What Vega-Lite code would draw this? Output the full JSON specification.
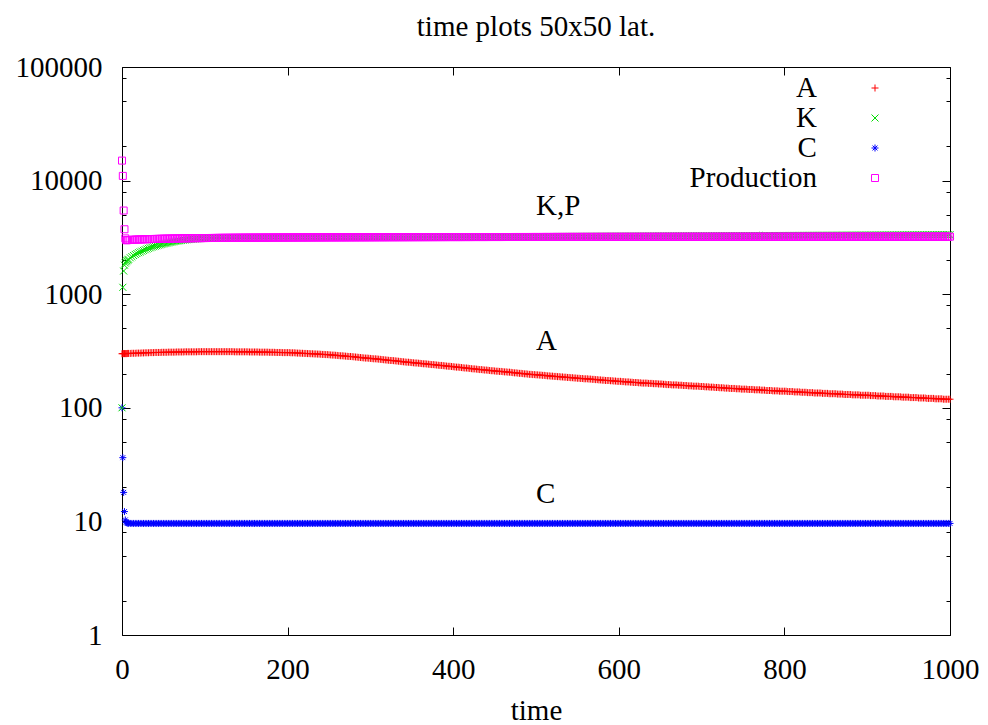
{
 "$schema": "https://vega.github.io/schema/vega-lite/v6.json",
 "width": 828,
 "height": 568,
 "autosize": "none",
 "padding": {"left": 122, "top": 67, "right": 38, "bottom": 90},
 "background": "white",
 "config": {
  "view": {"stroke": "black", "strokeWidth": 1},
  "font": "Liberation Serif",
  "legend": {"orient": "none", "legendX": 738.5, "legendY": 6.5, "padding": 0, "rowPadding": 0, "labelFont": "Liberation Serif", "labelFontSize": 29, "labelColor": "black", "labelAlign": "right", "labelOffset": -72.6, "labelLimit": 0, "symbolStrokeWidth": 1, "symbolSize": 49}
 },
 "title": {"text": "time plots 50x50 lat.", "font": "Liberation Serif", "fontSize": 29, "fontWeight": "normal", "color": "black", "anchor": "middle", "offset": 11},
 "layer": [
  {
   "data": {"values": [
{"t":0,"A":299,"K":100,"C":100,"P":15000},
{"t":1,"A":300,"K":1150,"C":36.4,"P":11000},
{"t":2,"A":300,"K":1600,"C":18,"P":5450},
{"t":3,"A":300,"K":1800,"C":12.2,"P":3730},
{"t":4,"A":300,"K":1880,"C":10.3,"P":3100},
{"t":5,"A":300,"K":1930,"C":9.8,"P":2990},
{"t":6,"A":300,"K":1970,"C":9.7,"P":2990},
{"t":7,"A":301,"K":2000,"C":9.65,"P":2995},
{"t":8,"A":301,"K":2030,"C":9.63,"P":3000},
{"t":10,"A":301,"K":2090,"C":9.6,"P":3006},
{"t":12,"A":302,"K":2140,"C":9.6,"P":3012},
{"t":14,"A":302,"K":2190,"C":9.6,"P":3017},
{"t":16,"A":302,"K":2240,"C":9.6,"P":3022},
{"t":18,"A":303,"K":2280,"C":9.6,"P":3026},
{"t":20,"A":303,"K":2320,"C":9.6,"P":3030},
{"t":22,"A":303,"K":2356,"C":9.6,"P":3034},
{"t":24,"A":304,"K":2392,"C":9.6,"P":3038},
{"t":26,"A":304,"K":2428,"C":9.6,"P":3042},
{"t":28,"A":305,"K":2464,"C":9.6,"P":3046},
{"t":30,"A":305,"K":2500,"C":9.6,"P":3050},
{"t":32,"A":305,"K":2532,"C":9.6,"P":3053},
{"t":34,"A":306,"K":2564,"C":9.6,"P":3056},
{"t":36,"A":306,"K":2594,"C":9.6,"P":3059},
{"t":38,"A":306,"K":2622,"C":9.6,"P":3062},
{"t":40,"A":307,"K":2650,"C":9.6,"P":3065},
{"t":42,"A":307,"K":2674,"C":9.6,"P":3068},
{"t":44,"A":307,"K":2698,"C":9.6,"P":3070},
{"t":46,"A":307,"K":2722,"C":9.6,"P":3073},
{"t":48,"A":308,"K":2746,"C":9.6,"P":3075},
{"t":50,"A":308,"K":2770,"C":9.6,"P":3078},
{"t":52,"A":308,"K":2790,"C":9.6,"P":3080},
{"t":54,"A":308,"K":2810,"C":9.6,"P":3082},
{"t":56,"A":309,"K":2830,"C":9.6,"P":3085},
{"t":58,"A":309,"K":2850,"C":9.6,"P":3087},
{"t":60,"A":309,"K":2870,"C":9.6,"P":3089},
{"t":62,"A":309,"K":2890,"C":9.6,"P":3091},
{"t":64,"A":309,"K":2910,"C":9.6,"P":3093},
{"t":66,"A":310,"K":2928,"C":9.6,"P":3095},
{"t":68,"A":310,"K":2944,"C":9.6,"P":3097},
{"t":70,"A":310,"K":2960,"C":9.6,"P":3099},
{"t":72,"A":310,"K":2974,"C":9.6,"P":3101},
{"t":74,"A":310,"K":2988,"C":9.6,"P":3102},
{"t":76,"A":311,"K":3002,"C":9.6,"P":3104},
{"t":78,"A":311,"K":3014,"C":9.6,"P":3105},
{"t":80,"A":311,"K":3025,"C":9.6,"P":3107},
{"t":82,"A":311,"K":3035,"C":9.6,"P":3109},
{"t":84,"A":311,"K":3045,"C":9.6,"P":3110},
{"t":86,"A":311,"K":3054,"C":9.6,"P":3112},
{"t":88,"A":311,"K":3062,"C":9.6,"P":3113},
{"t":90,"A":311,"K":3070,"C":9.6,"P":3115},
{"t":92,"A":312,"K":3078,"C":9.6,"P":3116},
{"t":94,"A":312,"K":3086,"C":9.6,"P":3117},
{"t":96,"A":312,"K":3093,"C":9.6,"P":3118},
{"t":98,"A":312,"K":3099,"C":9.6,"P":3120},
{"t":100,"A":312,"K":3105,"C":9.6,"P":3121},
{"t":102,"A":312,"K":3109,"C":9.6,"P":3122},
{"t":104,"A":312,"K":3112,"C":9.6,"P":3123},
{"t":106,"A":312,"K":3116,"C":9.6,"P":3125},
{"t":108,"A":312,"K":3119,"C":9.6,"P":3126},
{"t":110,"A":312,"K":3122,"C":9.6,"P":3127},
{"t":112,"A":312,"K":3123,"C":9.6,"P":3128},
{"t":114,"A":312,"K":3124,"C":9.6,"P":3129},
{"t":116,"A":312,"K":3125,"C":9.6,"P":3130},
{"t":118,"A":312,"K":3126,"C":9.6,"P":3131},
{"t":120,"A":312,"K":3127,"C":9.6,"P":3132},
{"t":122,"A":312,"K":3127,"C":9.6,"P":3133},
{"t":124,"A":312,"K":3128,"C":9.6,"P":3134},
{"t":126,"A":312,"K":3128,"C":9.6,"P":3134},
{"t":128,"A":312,"K":3129,"C":9.6,"P":3135},
{"t":130,"A":312,"K":3129,"C":9.6,"P":3136},
{"t":132,"A":312,"K":3129,"C":9.6,"P":3137},
{"t":134,"A":312,"K":3130,"C":9.6,"P":3138},
{"t":136,"A":311,"K":3130,"C":9.6,"P":3138},
{"t":138,"A":311,"K":3131,"C":9.6,"P":3139},
{"t":140,"A":311,"K":3131,"C":9.6,"P":3140},
{"t":142,"A":311,"K":3132,"C":9.6,"P":3141},
{"t":144,"A":311,"K":3132,"C":9.6,"P":3142},
{"t":146,"A":311,"K":3133,"C":9.6,"P":3142},
{"t":148,"A":311,"K":3133,"C":9.6,"P":3143},
{"t":150,"A":311,"K":3134,"C":9.6,"P":3144},
{"t":152,"A":311,"K":3134,"C":9.6,"P":3145},
{"t":154,"A":310,"K":3135,"C":9.6,"P":3145},
{"t":156,"A":310,"K":3135,"C":9.6,"P":3146},
{"t":158,"A":310,"K":3136,"C":9.6,"P":3146},
{"t":160,"A":310,"K":3136,"C":9.6,"P":3147},
{"t":162,"A":310,"K":3136,"C":9.6,"P":3148},
{"t":164,"A":310,"K":3137,"C":9.6,"P":3148},
{"t":166,"A":309,"K":3137,"C":9.6,"P":3149},
{"t":168,"A":309,"K":3138,"C":9.6,"P":3149},
{"t":170,"A":309,"K":3138,"C":9.6,"P":3150},
{"t":172,"A":309,"K":3139,"C":9.6,"P":3151},
{"t":174,"A":309,"K":3139,"C":9.6,"P":3151},
{"t":176,"A":309,"K":3140,"C":9.6,"P":3152},
{"t":178,"A":308,"K":3140,"C":9.6,"P":3152},
{"t":180,"A":308,"K":3141,"C":9.6,"P":3153},
{"t":182,"A":308,"K":3141,"C":9.6,"P":3153},
{"t":184,"A":308,"K":3142,"C":9.6,"P":3154},
{"t":186,"A":307,"K":3142,"C":9.6,"P":3154},
{"t":188,"A":307,"K":3143,"C":9.6,"P":3155},
{"t":190,"A":307,"K":3143,"C":9.6,"P":3155},
{"t":192,"A":307,"K":3143,"C":9.6,"P":3156},
{"t":194,"A":306,"K":3144,"C":9.6,"P":3156},
{"t":196,"A":306,"K":3144,"C":9.6,"P":3156},
{"t":198,"A":306,"K":3145,"C":9.6,"P":3157},
{"t":200,"A":306,"K":3145,"C":9.6,"P":3157},
{"t":202,"A":306,"K":3146,"C":9.6,"P":3157},
{"t":204,"A":305,"K":3146,"C":9.6,"P":3158},
{"t":206,"A":305,"K":3147,"C":9.6,"P":3158},
{"t":208,"A":305,"K":3147,"C":9.6,"P":3159},
{"t":210,"A":304,"K":3148,"C":9.6,"P":3159},
{"t":212,"A":303,"K":3148,"C":9.6,"P":3159},
{"t":214,"A":303,"K":3149,"C":9.6,"P":3160},
{"t":216,"A":302,"K":3149,"C":9.6,"P":3160},
{"t":218,"A":302,"K":3150,"C":9.6,"P":3161},
{"t":220,"A":301,"K":3150,"C":9.6,"P":3161},
{"t":222,"A":301,"K":3150,"C":9.6,"P":3161},
{"t":224,"A":300,"K":3151,"C":9.6,"P":3162},
{"t":226,"A":300,"K":3151,"C":9.6,"P":3162},
{"t":228,"A":299,"K":3152,"C":9.6,"P":3163},
{"t":230,"A":299,"K":3152,"C":9.6,"P":3163},
{"t":232,"A":298,"K":3153,"C":9.6,"P":3163},
{"t":234,"A":298,"K":3153,"C":9.6,"P":3164},
{"t":236,"A":297,"K":3154,"C":9.6,"P":3164},
{"t":238,"A":297,"K":3154,"C":9.6,"P":3164},
{"t":240,"A":296,"K":3155,"C":9.6,"P":3164},
{"t":242,"A":295,"K":3155,"C":9.6,"P":3165},
{"t":244,"A":295,"K":3156,"C":9.6,"P":3165},
{"t":246,"A":294,"K":3156,"C":9.6,"P":3165},
{"t":248,"A":294,"K":3157,"C":9.6,"P":3166},
{"t":250,"A":293,"K":3157,"C":9.6,"P":3166},
{"t":252,"A":292,"K":3158,"C":9.6,"P":3166},
{"t":254,"A":291,"K":3158,"C":9.6,"P":3167},
{"t":256,"A":291,"K":3159,"C":9.6,"P":3167},
{"t":258,"A":290,"K":3159,"C":9.6,"P":3167},
{"t":260,"A":289,"K":3160,"C":9.6,"P":3167},
{"t":262,"A":288,"K":3160,"C":9.6,"P":3168},
{"t":264,"A":287,"K":3161,"C":9.6,"P":3168},
{"t":266,"A":287,"K":3161,"C":9.6,"P":3168},
{"t":268,"A":286,"K":3162,"C":9.6,"P":3169},
{"t":270,"A":285,"K":3162,"C":9.6,"P":3169},
{"t":272,"A":284,"K":3162,"C":9.6,"P":3169},
{"t":274,"A":283,"K":3163,"C":9.6,"P":3169},
{"t":276,"A":283,"K":3163,"C":9.6,"P":3170},
{"t":278,"A":282,"K":3164,"C":9.6,"P":3170},
{"t":280,"A":281,"K":3164,"C":9.6,"P":3170},
{"t":282,"A":280,"K":3165,"C":9.6,"P":3170},
{"t":284,"A":279,"K":3165,"C":9.6,"P":3171},
{"t":286,"A":278,"K":3166,"C":9.6,"P":3171},
{"t":288,"A":277,"K":3166,"C":9.6,"P":3171},
{"t":290,"A":276,"K":3167,"C":9.6,"P":3171},
{"t":292,"A":275,"K":3167,"C":9.6,"P":3171},
{"t":294,"A":274,"K":3168,"C":9.6,"P":3172},
{"t":296,"A":274,"K":3168,"C":9.6,"P":3172},
{"t":298,"A":273,"K":3169,"C":9.6,"P":3172},
{"t":300,"A":272,"K":3169,"C":9.6,"P":3172},
{"t":302,"A":271,"K":3169,"C":9.6,"P":3173},
{"t":304,"A":270,"K":3170,"C":9.6,"P":3173},
{"t":306,"A":270,"K":3170,"C":9.6,"P":3173},
{"t":308,"A":269,"K":3171,"C":9.6,"P":3174},
{"t":310,"A":268,"K":3171,"C":9.6,"P":3174},
{"t":312,"A":267,"K":3172,"C":9.6,"P":3174},
{"t":314,"A":266,"K":3172,"C":9.6,"P":3174},
{"t":316,"A":265,"K":3173,"C":9.6,"P":3175},
{"t":318,"A":264,"K":3173,"C":9.6,"P":3175},
{"t":320,"A":263,"K":3174,"C":9.6,"P":3175},
{"t":322,"A":262,"K":3174,"C":9.6,"P":3175},
{"t":324,"A":261,"K":3175,"C":9.6,"P":3176},
{"t":326,"A":261,"K":3175,"C":9.6,"P":3176},
{"t":328,"A":260,"K":3176,"C":9.6,"P":3176},
{"t":330,"A":259,"K":3176,"C":9.6,"P":3176},
{"t":332,"A":258,"K":3177,"C":9.6,"P":3176},
{"t":334,"A":257,"K":3177,"C":9.6,"P":3177},
{"t":336,"A":256,"K":3178,"C":9.6,"P":3177},
{"t":338,"A":255,"K":3178,"C":9.6,"P":3177},
{"t":340,"A":254,"K":3179,"C":9.6,"P":3177},
{"t":342,"A":253,"K":3179,"C":9.6,"P":3177},
{"t":344,"A":252,"K":3180,"C":9.6,"P":3178},
{"t":346,"A":252,"K":3180,"C":9.6,"P":3178},
{"t":348,"A":251,"K":3181,"C":9.6,"P":3178},
{"t":350,"A":250,"K":3181,"C":9.6,"P":3178},
{"t":352,"A":249,"K":3181,"C":9.6,"P":3178},
{"t":354,"A":248,"K":3182,"C":9.6,"P":3179},
{"t":356,"A":248,"K":3182,"C":9.6,"P":3179},
{"t":358,"A":247,"K":3183,"C":9.6,"P":3179},
{"t":360,"A":246,"K":3183,"C":9.6,"P":3179},
{"t":362,"A":245,"K":3184,"C":9.6,"P":3179},
{"t":364,"A":244,"K":3184,"C":9.6,"P":3180},
{"t":366,"A":244,"K":3185,"C":9.6,"P":3180},
{"t":368,"A":243,"K":3185,"C":9.6,"P":3180},
{"t":370,"A":242,"K":3186,"C":9.6,"P":3180},
{"t":372,"A":241,"K":3186,"C":9.6,"P":3180},
{"t":374,"A":240,"K":3187,"C":9.6,"P":3181},
{"t":376,"A":240,"K":3187,"C":9.6,"P":3181},
{"t":378,"A":239,"K":3188,"C":9.6,"P":3181},
{"t":380,"A":238,"K":3188,"C":9.6,"P":3181},
{"t":382,"A":237,"K":3189,"C":9.6,"P":3181},
{"t":384,"A":236,"K":3189,"C":9.6,"P":3182},
{"t":386,"A":236,"K":3190,"C":9.6,"P":3182},
{"t":388,"A":235,"K":3190,"C":9.6,"P":3182},
{"t":390,"A":234,"K":3191,"C":9.6,"P":3182},
{"t":392,"A":233,"K":3191,"C":9.6,"P":3182},
{"t":394,"A":232,"K":3192,"C":9.6,"P":3183},
{"t":396,"A":232,"K":3192,"C":9.6,"P":3183},
{"t":398,"A":231,"K":3193,"C":9.6,"P":3183},
{"t":400,"A":230,"K":3193,"C":9.6,"P":3183},
{"t":402,"A":229,"K":3193,"C":9.6,"P":3183},
{"t":404,"A":228,"K":3194,"C":9.6,"P":3183},
{"t":406,"A":228,"K":3194,"C":9.6,"P":3183},
{"t":408,"A":227,"K":3195,"C":9.6,"P":3183},
{"t":410,"A":226,"K":3195,"C":9.6,"P":3183},
{"t":412,"A":225,"K":3196,"C":9.6,"P":3184},
{"t":414,"A":224,"K":3196,"C":9.6,"P":3184},
{"t":416,"A":224,"K":3197,"C":9.6,"P":3184},
{"t":418,"A":223,"K":3197,"C":9.6,"P":3184},
{"t":420,"A":222,"K":3198,"C":9.6,"P":3184},
{"t":422,"A":221,"K":3198,"C":9.6,"P":3184},
{"t":424,"A":220,"K":3199,"C":9.6,"P":3185},
{"t":426,"A":220,"K":3199,"C":9.6,"P":3185},
{"t":428,"A":219,"K":3200,"C":9.6,"P":3185},
{"t":430,"A":218,"K":3200,"C":9.6,"P":3185},
{"t":432,"A":217,"K":3201,"C":9.6,"P":3185},
{"t":434,"A":217,"K":3201,"C":9.6,"P":3186},
{"t":436,"A":216,"K":3202,"C":9.6,"P":3186},
{"t":438,"A":215,"K":3202,"C":9.6,"P":3186},
{"t":440,"A":215,"K":3203,"C":9.6,"P":3186},
{"t":442,"A":214,"K":3203,"C":9.6,"P":3186},
{"t":444,"A":213,"K":3204,"C":9.6,"P":3187},
{"t":446,"A":212,"K":3204,"C":9.6,"P":3187},
{"t":448,"A":212,"K":3205,"C":9.6,"P":3187},
{"t":450,"A":211,"K":3205,"C":9.6,"P":3187},
{"t":452,"A":210,"K":3205,"C":9.6,"P":3187},
{"t":454,"A":210,"K":3206,"C":9.6,"P":3187},
{"t":456,"A":209,"K":3206,"C":9.6,"P":3187},
{"t":458,"A":209,"K":3207,"C":9.6,"P":3187},
{"t":460,"A":208,"K":3207,"C":9.6,"P":3187},
{"t":462,"A":207,"K":3208,"C":9.6,"P":3188},
{"t":464,"A":207,"K":3208,"C":9.6,"P":3188},
{"t":466,"A":206,"K":3209,"C":9.6,"P":3188},
{"t":468,"A":206,"K":3209,"C":9.6,"P":3188},
{"t":470,"A":205,"K":3210,"C":9.6,"P":3188},
{"t":472,"A":204,"K":3210,"C":9.6,"P":3188},
{"t":474,"A":203,"K":3211,"C":9.6,"P":3189},
{"t":476,"A":203,"K":3211,"C":9.6,"P":3189},
{"t":478,"A":202,"K":3212,"C":9.6,"P":3189},
{"t":480,"A":201,"K":3212,"C":9.6,"P":3189},
{"t":482,"A":201,"K":3213,"C":9.6,"P":3189},
{"t":484,"A":200,"K":3213,"C":9.6,"P":3189},
{"t":486,"A":199,"K":3214,"C":9.6,"P":3189},
{"t":488,"A":199,"K":3214,"C":9.6,"P":3189},
{"t":490,"A":198,"K":3215,"C":9.6,"P":3189},
{"t":492,"A":197,"K":3215,"C":9.6,"P":3189},
{"t":494,"A":197,"K":3216,"C":9.6,"P":3190},
{"t":496,"A":196,"K":3216,"C":9.6,"P":3190},
{"t":498,"A":196,"K":3217,"C":9.6,"P":3190},
{"t":500,"A":195,"K":3217,"C":9.6,"P":3190},
{"t":502,"A":195,"K":3217,"C":9.6,"P":3190},
{"t":504,"A":194,"K":3218,"C":9.6,"P":3190},
{"t":506,"A":194,"K":3218,"C":9.6,"P":3190},
{"t":508,"A":193,"K":3219,"C":9.6,"P":3191},
{"t":510,"A":193,"K":3219,"C":9.6,"P":3191},
{"t":512,"A":192,"K":3220,"C":9.6,"P":3191},
{"t":514,"A":191,"K":3221,"C":9.6,"P":3191},
{"t":516,"A":191,"K":3221,"C":9.6,"P":3191},
{"t":518,"A":190,"K":3222,"C":9.6,"P":3191},
{"t":520,"A":190,"K":3222,"C":9.6,"P":3191},
{"t":522,"A":189,"K":3223,"C":9.6,"P":3191},
{"t":524,"A":189,"K":3223,"C":9.6,"P":3192},
{"t":526,"A":188,"K":3224,"C":9.6,"P":3192},
{"t":528,"A":188,"K":3224,"C":9.6,"P":3192},
{"t":530,"A":187,"K":3224,"C":9.6,"P":3192},
{"t":532,"A":187,"K":3225,"C":9.6,"P":3192},
{"t":534,"A":186,"K":3225,"C":9.6,"P":3192},
{"t":536,"A":186,"K":3226,"C":9.6,"P":3192},
{"t":538,"A":185,"K":3226,"C":9.6,"P":3193},
{"t":540,"A":185,"K":3227,"C":9.6,"P":3193},
{"t":542,"A":184,"K":3227,"C":9.6,"P":3193},
{"t":544,"A":184,"K":3228,"C":9.6,"P":3193},
{"t":546,"A":183,"K":3228,"C":9.6,"P":3193},
{"t":548,"A":183,"K":3229,"C":9.6,"P":3193},
{"t":550,"A":182,"K":3229,"C":9.6,"P":3193},
{"t":552,"A":182,"K":3229,"C":9.6,"P":3193},
{"t":554,"A":181,"K":3230,"C":9.6,"P":3194},
{"t":556,"A":181,"K":3230,"C":9.6,"P":3194},
{"t":558,"A":180,"K":3231,"C":9.6,"P":3194},
{"t":560,"A":180,"K":3231,"C":9.6,"P":3194},
{"t":562,"A":180,"K":3232,"C":9.6,"P":3194},
{"t":564,"A":179,"K":3232,"C":9.6,"P":3194},
{"t":566,"A":179,"K":3233,"C":9.6,"P":3194},
{"t":568,"A":178,"K":3233,"C":9.6,"P":3194},
{"t":570,"A":178,"K":3234,"C":9.6,"P":3194},
{"t":572,"A":177,"K":3234,"C":9.6,"P":3195},
{"t":574,"A":177,"K":3235,"C":9.6,"P":3195},
{"t":576,"A":176,"K":3235,"C":9.6,"P":3195},
{"t":578,"A":176,"K":3236,"C":9.6,"P":3195},
{"t":580,"A":175,"K":3236,"C":9.6,"P":3195},
{"t":582,"A":175,"K":3237,"C":9.6,"P":3195},
{"t":584,"A":174,"K":3237,"C":9.6,"P":3195},
{"t":586,"A":174,"K":3238,"C":9.6,"P":3196},
{"t":588,"A":174,"K":3238,"C":9.6,"P":3196},
{"t":590,"A":173,"K":3239,"C":9.6,"P":3196},
{"t":592,"A":173,"K":3239,"C":9.6,"P":3196},
{"t":594,"A":172,"K":3240,"C":9.6,"P":3196},
{"t":596,"A":172,"K":3240,"C":9.6,"P":3196},
{"t":598,"A":171,"K":3241,"C":9.6,"P":3196},
{"t":600,"A":171,"K":3241,"C":9.6,"P":3196},
{"t":602,"A":171,"K":3241,"C":9.6,"P":3196},
{"t":604,"A":170,"K":3242,"C":9.6,"P":3197},
{"t":606,"A":170,"K":3242,"C":9.6,"P":3197},
{"t":608,"A":169,"K":3243,"C":9.6,"P":3197},
{"t":610,"A":169,"K":3243,"C":9.6,"P":3197},
{"t":612,"A":169,"K":3244,"C":9.6,"P":3197},
{"t":614,"A":168,"K":3244,"C":9.6,"P":3197},
{"t":616,"A":168,"K":3245,"C":9.6,"P":3197},
{"t":618,"A":167,"K":3245,"C":9.6,"P":3197},
{"t":620,"A":167,"K":3246,"C":9.6,"P":3197},
{"t":622,"A":167,"K":3246,"C":9.6,"P":3197},
{"t":624,"A":166,"K":3247,"C":9.6,"P":3197},
{"t":626,"A":166,"K":3247,"C":9.6,"P":3198},
{"t":628,"A":165,"K":3248,"C":9.6,"P":3198},
{"t":630,"A":165,"K":3248,"C":9.6,"P":3198},
{"t":632,"A":165,"K":3249,"C":9.6,"P":3198},
{"t":634,"A":165,"K":3249,"C":9.6,"P":3198},
{"t":636,"A":164,"K":3250,"C":9.6,"P":3198},
{"t":638,"A":164,"K":3250,"C":9.6,"P":3198},
{"t":640,"A":164,"K":3251,"C":9.6,"P":3198},
{"t":642,"A":163,"K":3251,"C":9.6,"P":3198},
{"t":644,"A":163,"K":3252,"C":9.6,"P":3198},
{"t":646,"A":163,"K":3252,"C":9.6,"P":3199},
{"t":648,"A":162,"K":3253,"C":9.6,"P":3199},
{"t":650,"A":162,"K":3253,"C":9.6,"P":3199},
{"t":652,"A":162,"K":3253,"C":9.6,"P":3199},
{"t":654,"A":161,"K":3254,"C":9.6,"P":3199},
{"t":656,"A":161,"K":3254,"C":9.6,"P":3199},
{"t":658,"A":160,"K":3255,"C":9.6,"P":3199},
{"t":660,"A":160,"K":3255,"C":9.6,"P":3199},
{"t":662,"A":160,"K":3256,"C":9.6,"P":3199},
{"t":664,"A":159,"K":3256,"C":9.6,"P":3200},
{"t":666,"A":159,"K":3257,"C":9.6,"P":3200},
{"t":668,"A":159,"K":3257,"C":9.6,"P":3200},
{"t":670,"A":159,"K":3258,"C":9.6,"P":3200},
{"t":672,"A":158,"K":3258,"C":9.6,"P":3200},
{"t":674,"A":158,"K":3259,"C":9.6,"P":3200},
{"t":676,"A":158,"K":3259,"C":9.6,"P":3200},
{"t":678,"A":157,"K":3260,"C":9.6,"P":3200},
{"t":680,"A":157,"K":3260,"C":9.6,"P":3200},
{"t":682,"A":157,"K":3261,"C":9.6,"P":3200},
{"t":684,"A":156,"K":3261,"C":9.6,"P":3200},
{"t":686,"A":156,"K":3262,"C":9.6,"P":3201},
{"t":688,"A":156,"K":3262,"C":9.6,"P":3201},
{"t":690,"A":155,"K":3263,"C":9.6,"P":3201},
{"t":692,"A":155,"K":3263,"C":9.6,"P":3201},
{"t":694,"A":155,"K":3264,"C":9.6,"P":3201},
{"t":696,"A":155,"K":3264,"C":9.6,"P":3201},
{"t":698,"A":154,"K":3265,"C":9.6,"P":3201},
{"t":700,"A":154,"K":3265,"C":9.6,"P":3201},
{"t":702,"A":154,"K":3265,"C":9.6,"P":3201},
{"t":704,"A":153,"K":3266,"C":9.6,"P":3201},
{"t":706,"A":153,"K":3266,"C":9.6,"P":3201},
{"t":708,"A":153,"K":3267,"C":9.6,"P":3201},
{"t":710,"A":152,"K":3267,"C":9.6,"P":3201},
{"t":712,"A":152,"K":3268,"C":9.6,"P":3202},
{"t":714,"A":152,"K":3268,"C":9.6,"P":3202},
{"t":716,"A":151,"K":3269,"C":9.6,"P":3202},
{"t":718,"A":151,"K":3269,"C":9.6,"P":3202},
{"t":720,"A":151,"K":3270,"C":9.6,"P":3202},
{"t":722,"A":150,"K":3270,"C":9.6,"P":3202},
{"t":724,"A":150,"K":3271,"C":9.6,"P":3202},
{"t":726,"A":150,"K":3271,"C":9.6,"P":3202},
{"t":728,"A":149,"K":3272,"C":9.6,"P":3202},
{"t":730,"A":149,"K":3272,"C":9.6,"P":3202},
{"t":732,"A":149,"K":3273,"C":9.6,"P":3202},
{"t":734,"A":148,"K":3273,"C":9.6,"P":3202},
{"t":736,"A":148,"K":3274,"C":9.6,"P":3203},
{"t":738,"A":148,"K":3274,"C":9.6,"P":3203},
{"t":740,"A":148,"K":3275,"C":9.6,"P":3203},
{"t":742,"A":147,"K":3275,"C":9.6,"P":3203},
{"t":744,"A":147,"K":3276,"C":9.6,"P":3203},
{"t":746,"A":147,"K":3276,"C":9.6,"P":3203},
{"t":748,"A":146,"K":3277,"C":9.6,"P":3203},
{"t":750,"A":146,"K":3277,"C":9.6,"P":3203},
{"t":752,"A":146,"K":3277,"C":9.6,"P":3203},
{"t":754,"A":146,"K":3278,"C":9.6,"P":3203},
{"t":756,"A":145,"K":3278,"C":9.6,"P":3203},
{"t":758,"A":145,"K":3279,"C":9.6,"P":3203},
{"t":760,"A":145,"K":3279,"C":9.6,"P":3203},
{"t":762,"A":145,"K":3280,"C":9.6,"P":3204},
{"t":764,"A":144,"K":3280,"C":9.6,"P":3204},
{"t":766,"A":144,"K":3281,"C":9.6,"P":3204},
{"t":768,"A":144,"K":3281,"C":9.6,"P":3204},
{"t":770,"A":144,"K":3282,"C":9.6,"P":3204},
{"t":772,"A":143,"K":3282,"C":9.6,"P":3204},
{"t":774,"A":143,"K":3283,"C":9.6,"P":3204},
{"t":776,"A":143,"K":3283,"C":9.6,"P":3204},
{"t":778,"A":142,"K":3284,"C":9.6,"P":3204},
{"t":780,"A":142,"K":3284,"C":9.6,"P":3204},
{"t":782,"A":142,"K":3285,"C":9.6,"P":3204},
{"t":784,"A":142,"K":3285,"C":9.6,"P":3204},
{"t":786,"A":141,"K":3286,"C":9.6,"P":3205},
{"t":788,"A":141,"K":3286,"C":9.6,"P":3205},
{"t":790,"A":141,"K":3287,"C":9.6,"P":3205},
{"t":792,"A":141,"K":3287,"C":9.6,"P":3205},
{"t":794,"A":140,"K":3288,"C":9.6,"P":3205},
{"t":796,"A":140,"K":3288,"C":9.6,"P":3205},
{"t":798,"A":140,"K":3289,"C":9.6,"P":3205},
{"t":800,"A":140,"K":3289,"C":9.6,"P":3205},
{"t":802,"A":140,"K":3289,"C":9.6,"P":3205},
{"t":804,"A":139,"K":3290,"C":9.6,"P":3205},
{"t":806,"A":139,"K":3290,"C":9.6,"P":3205},
{"t":808,"A":139,"K":3291,"C":9.6,"P":3205},
{"t":810,"A":139,"K":3291,"C":9.6,"P":3205},
{"t":812,"A":138,"K":3292,"C":9.6,"P":3205},
{"t":814,"A":138,"K":3292,"C":9.6,"P":3205},
{"t":816,"A":138,"K":3293,"C":9.6,"P":3206},
{"t":818,"A":138,"K":3293,"C":9.6,"P":3206},
{"t":820,"A":137,"K":3294,"C":9.6,"P":3206},
{"t":822,"A":137,"K":3294,"C":9.6,"P":3206},
{"t":824,"A":137,"K":3295,"C":9.6,"P":3206},
{"t":826,"A":137,"K":3295,"C":9.6,"P":3206},
{"t":828,"A":136,"K":3296,"C":9.6,"P":3206},
{"t":830,"A":136,"K":3296,"C":9.6,"P":3206},
{"t":832,"A":136,"K":3297,"C":9.6,"P":3206},
{"t":834,"A":136,"K":3297,"C":9.6,"P":3206},
{"t":836,"A":135,"K":3298,"C":9.6,"P":3206},
{"t":838,"A":135,"K":3298,"C":9.6,"P":3206},
{"t":840,"A":135,"K":3299,"C":9.6,"P":3206},
{"t":842,"A":135,"K":3299,"C":9.6,"P":3206},
{"t":844,"A":135,"K":3300,"C":9.6,"P":3207},
{"t":846,"A":134,"K":3300,"C":9.6,"P":3207},
{"t":848,"A":134,"K":3301,"C":9.6,"P":3207},
{"t":850,"A":134,"K":3301,"C":9.6,"P":3207},
{"t":852,"A":134,"K":3301,"C":9.6,"P":3207},
{"t":854,"A":133,"K":3302,"C":9.6,"P":3207},
{"t":856,"A":133,"K":3302,"C":9.6,"P":3207},
{"t":858,"A":133,"K":3303,"C":9.6,"P":3207},
{"t":860,"A":133,"K":3303,"C":9.6,"P":3207},
{"t":862,"A":133,"K":3304,"C":9.6,"P":3207},
{"t":864,"A":132,"K":3304,"C":9.6,"P":3207},
{"t":866,"A":132,"K":3305,"C":9.6,"P":3207},
{"t":868,"A":132,"K":3305,"C":9.6,"P":3207},
{"t":870,"A":132,"K":3306,"C":9.6,"P":3207},
{"t":872,"A":131,"K":3306,"C":9.6,"P":3208},
{"t":874,"A":131,"K":3307,"C":9.6,"P":3208},
{"t":876,"A":131,"K":3307,"C":9.6,"P":3208},
{"t":878,"A":131,"K":3308,"C":9.6,"P":3208},
{"t":880,"A":131,"K":3308,"C":9.6,"P":3208},
{"t":882,"A":130,"K":3309,"C":9.6,"P":3208},
{"t":884,"A":130,"K":3309,"C":9.6,"P":3208},
{"t":886,"A":130,"K":3310,"C":9.6,"P":3208},
{"t":888,"A":130,"K":3310,"C":9.6,"P":3208},
{"t":890,"A":130,"K":3311,"C":9.6,"P":3208},
{"t":892,"A":129,"K":3311,"C":9.6,"P":3208},
{"t":894,"A":129,"K":3312,"C":9.6,"P":3208},
{"t":896,"A":129,"K":3312,"C":9.6,"P":3208},
{"t":898,"A":129,"K":3313,"C":9.6,"P":3208},
{"t":900,"A":129,"K":3313,"C":9.6,"P":3208},
{"t":902,"A":129,"K":3313,"C":9.6,"P":3208},
{"t":904,"A":128,"K":3314,"C":9.6,"P":3208},
{"t":906,"A":128,"K":3314,"C":9.6,"P":3208},
{"t":908,"A":128,"K":3315,"C":9.6,"P":3208},
{"t":910,"A":128,"K":3315,"C":9.6,"P":3208},
{"t":912,"A":127,"K":3316,"C":9.6,"P":3209},
{"t":914,"A":127,"K":3316,"C":9.6,"P":3209},
{"t":916,"A":127,"K":3317,"C":9.6,"P":3209},
{"t":918,"A":127,"K":3317,"C":9.6,"P":3209},
{"t":920,"A":127,"K":3318,"C":9.6,"P":3209},
{"t":922,"A":126,"K":3318,"C":9.6,"P":3209},
{"t":924,"A":126,"K":3319,"C":9.6,"P":3209},
{"t":926,"A":126,"K":3319,"C":9.6,"P":3209},
{"t":928,"A":126,"K":3320,"C":9.6,"P":3209},
{"t":930,"A":126,"K":3320,"C":9.6,"P":3209},
{"t":932,"A":125,"K":3321,"C":9.6,"P":3209},
{"t":934,"A":125,"K":3321,"C":9.6,"P":3209},
{"t":936,"A":125,"K":3322,"C":9.6,"P":3209},
{"t":938,"A":125,"K":3322,"C":9.6,"P":3209},
{"t":940,"A":125,"K":3323,"C":9.6,"P":3209},
{"t":942,"A":124,"K":3323,"C":9.6,"P":3209},
{"t":944,"A":124,"K":3324,"C":9.6,"P":3209},
{"t":946,"A":124,"K":3324,"C":9.6,"P":3210},
{"t":948,"A":124,"K":3325,"C":9.6,"P":3210},
{"t":950,"A":124,"K":3325,"C":9.6,"P":3210},
{"t":952,"A":123,"K":3325,"C":9.6,"P":3210},
{"t":954,"A":123,"K":3326,"C":9.6,"P":3210},
{"t":956,"A":123,"K":3326,"C":9.6,"P":3210},
{"t":958,"A":123,"K":3327,"C":9.6,"P":3210},
{"t":960,"A":123,"K":3327,"C":9.6,"P":3210},
{"t":962,"A":122,"K":3328,"C":9.6,"P":3210},
{"t":964,"A":122,"K":3328,"C":9.6,"P":3210},
{"t":966,"A":122,"K":3329,"C":9.6,"P":3210},
{"t":968,"A":122,"K":3329,"C":9.6,"P":3210},
{"t":970,"A":122,"K":3330,"C":9.6,"P":3210},
{"t":972,"A":121,"K":3330,"C":9.6,"P":3210},
{"t":974,"A":121,"K":3331,"C":9.6,"P":3210},
{"t":976,"A":121,"K":3331,"C":9.6,"P":3210},
{"t":978,"A":121,"K":3332,"C":9.6,"P":3210},
{"t":980,"A":121,"K":3332,"C":9.6,"P":3210},
{"t":982,"A":120,"K":3333,"C":9.6,"P":3210},
{"t":984,"A":120,"K":3333,"C":9.6,"P":3210},
{"t":986,"A":120,"K":3334,"C":9.6,"P":3210},
{"t":988,"A":120,"K":3334,"C":9.6,"P":3210},
{"t":990,"A":120,"K":3335,"C":9.6,"P":3210},
{"t":992,"A":119,"K":3335,"C":9.6,"P":3210},
{"t":994,"A":119,"K":3336,"C":9.6,"P":3210},
{"t":996,"A":119,"K":3336,"C":9.6,"P":3210},
{"t":998,"A":119,"K":3337,"C":9.6,"P":3210},
{"t":1000,"A":119,"K":3337,"C":9.6,"P":3210}
   ]},
   "transform": [{"fold": ["A", "K", "C", "P"], "as": ["series", "value"]}],
   "mark": {"type": "point", "filled": false, "opacity": 1, "strokeWidth": 1, "size": 49},
   "encoding": {
    "x": {"field": "t", "type": "quantitative", "scale": {"domain": [0, 1000], "nice": false, "zero": false},
     "axis": {"orient": "bottom", "values": [0, 200, 400, 600, 800, 1000], "format": "d", "domain": false, "grid": false, "tickSize": -8, "tickColor": "black", "tickWidth": 1, "labelFont": "Liberation Serif", "labelFontSize": 29, "labelColor": "black", "labelPadding": 28, "labelFlush": false, "labelOverlap": false, "labelBound": false, "title": "time", "titleFont": "Liberation Serif", "titleFontSize": 29, "titleFontWeight": "normal", "titleColor": "black", "titlePadding": 12}},
    "y": {"field": "value", "type": "quantitative", "scale": {"type": "log", "domain": [1, 100000], "nice": false},
     "axis": {"orient": "left", "values": [1, 2, 5, 8, 10, 20, 50, 80, 100, 200, 500, 800, 1000, 2000, 5000, 8000, 10000, 20000, 50000, 80000, 100000], "format": "d", "labelExpr": "slice(datum.label, 0, 1) == '1' ? datum.label : ''", "domain": false, "grid": false, "tickSize": {"condition": {"test": "datum.value == 1 || datum.value == 10 || datum.value == 100 || datum.value == 1000 || datum.value == 10000 || datum.value == 100000", "value": -8}, "value": -4}, "tickColor": "black", "tickWidth": 1, "labelFont": "Liberation Serif", "labelFontSize": 29, "labelColor": "black", "labelPadding": 28, "labelFlush": false, "labelOverlap": false, "labelBound": false, "title": null}},
    "color": {"field": "series", "type": "nominal", "scale": {"domain": ["A", "K", "C", "P"], "range": ["#ff0000", "#00dd00", "#0000ff", "#ff00ff"]}, "legend": {"title": null, "labelExpr": "datum.label == 'P' ? 'Production' : datum.label"}},
    "shape": {"field": "series", "type": "nominal", "scale": {"domain": ["A", "K", "C", "P"], "range": ["M-1,0H1M0,-1V1", "M-1,-1L1,1M1,-1L-1,1", "M-1,0H1M0,-1V1M-0.7,-0.7L0.7,0.7M0.7,-0.7L-0.7,0.7", "square"]}, "legend": {"title": null, "labelExpr": "datum.label == 'P' ? 'Production' : datum.label"}},
    "order": {"field": "series", "type": "nominal"}
   }
  },
  {
   "data": {"values": [
    {"t": 500, "v": 6000, "label": "K,P"},
    {"t": 500, "v": 390, "label": "A"},
    {"t": 500, "v": 17.4, "label": "C"}
   ]},
   "mark": {"type": "text", "align": "left", "baseline": "middle", "font": "Liberation Serif", "fontSize": 29, "color": "black"},
   "encoding": {
    "x": {"field": "t", "type": "quantitative", "axis": {"orient": "top", "values": [0, 200, 400, 600, 800, 1000], "labels": false, "domain": false, "grid": false, "tickSize": -8, "tickColor": "black", "tickWidth": 1, "title": null}},
    "y": {"field": "v", "type": "quantitative", "axis": {"orient": "right", "values": [1, 2, 5, 8, 10, 20, 50, 80, 100, 200, 500, 800, 1000, 2000, 5000, 8000, 10000, 20000, 50000, 80000, 100000], "labels": false, "domain": false, "grid": false, "tickSize": {"condition": {"test": "datum.value == 1 || datum.value == 10 || datum.value == 100 || datum.value == 1000 || datum.value == 10000 || datum.value == 100000", "value": -8}, "value": -4}, "tickColor": "black", "tickWidth": 1, "title": null}},
    "text": {"field": "label", "type": "nominal"}
   }
  }
 ],
 "resolve": {"axis": {"x": "independent", "y": "independent"}}
}
